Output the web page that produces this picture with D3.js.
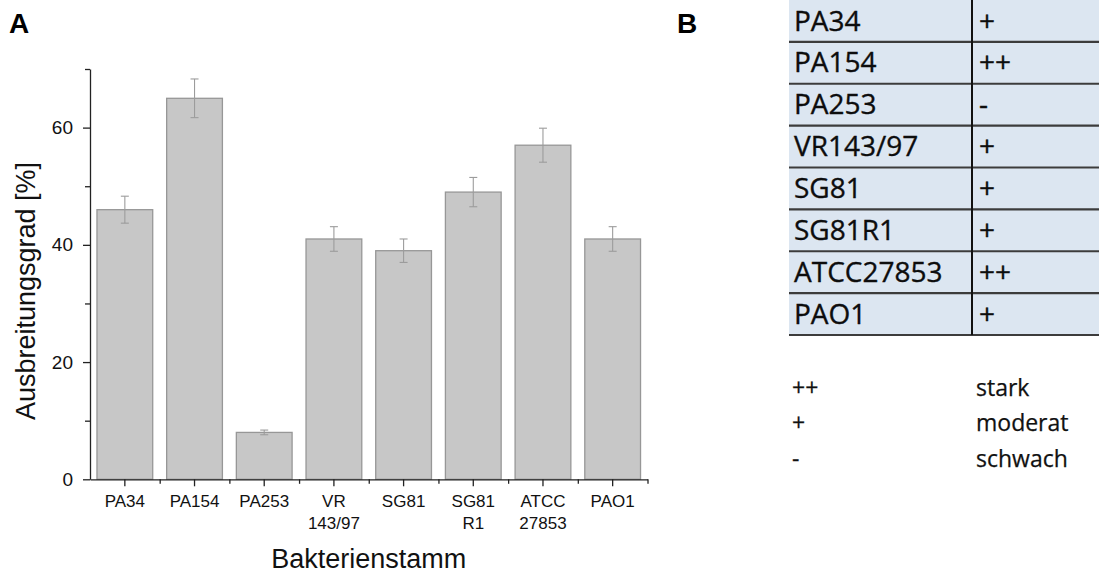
<!DOCTYPE html>
<html><head><meta charset="utf-8">
<script src="https://cdn.jsdelivr.net/npm/d3@7"></script>
<style>
html,body{margin:0;padding:0;background:#fff;}
svg{display:block;}
</style></head>
<body><svg id="c" width="1099" height="574"></svg>
<script>
// ---- data ----
const categories = ["PA34","PA154","PA253","VR\n143/97","SG81","SG81\nR1","ATCC\n27853","PAO1"];
const values = [46, 65, 8, 41, 39, 49, 57, 41];
const errors = [2.3, 3.3, 0.4, 2.1, 2.0, 2.5, 2.9, 2.1];
const yMajorTicks = [0, 20, 40, 60];
const yMinorTicks = [10, 30, 50, 70];
const tableStrains = ["PA34","PA154","PA253","VR143/97","SG81","SG81R1","ATCC27853","PAO1"];
const tableRatings = ["+","++","-","+","+","+","++","+"];
const legendSymbols = ["++","+","-"];
const legendLabels = ["stark","moderat","schwach"];

const svg = d3.select("#c");
const sans = "'Liberation Sans', Arial, sans-serif";
const tfont = "'Open Sans', sans-serif";

// ---- panel A ----
const x = d3.scaleBand().domain(categories).range([90, 647.5]).paddingInner(0.2).paddingOuter(0.1);
const y = d3.scaleLinear().domain([0, 70]).range([479.3, 69]);

const bars = svg.append("g");
bars.selectAll("rect").data(categories).join("rect")
  .attr("x", d => x(d)).attr("width", x.bandwidth())
  .attr("y", (d,i) => y(values[i])).attr("height", (d,i) => y(0) - y(values[i]))
  .attr("fill", "#c7c7c7").attr("stroke", "#979797").attr("stroke-width", 1.3);

const eb = svg.append("g").attr("stroke", "#9c9c9c").attr("stroke-width", 1.1).attr("fill", "none");
categories.forEach((c, i) => {
  const cx = x(c) + x.bandwidth()/2;
  const hi = y(values[i] + errors[i]), lo = y(values[i] - errors[i]);
  eb.append("line").attr("x1", cx).attr("x2", cx).attr("y1", hi).attr("y2", lo);
  eb.append("line").attr("x1", cx-4).attr("x2", cx+4).attr("y1", hi).attr("y2", hi);
  eb.append("line").attr("x1", cx-4).attr("x2", cx+4).attr("y1", lo).attr("y2", lo);
});

// y axis
const yAxisG = svg.append("g").attr("transform", "translate(90,0)")
  .call(d3.axisLeft(y).tickValues(yMajorTicks).tickSize(7).tickPadding(10).tickSizeOuter(0));
svg.append("g").attr("transform", "translate(90,0)")
  .call(d3.axisLeft(y).tickValues(yMinorTicks).tickSize(5).tickFormat("").tickSizeOuter(0))
  .select(".domain").remove();
yAxisG.selectAll("text").attr("font-family", sans).attr("font-size", 19).attr("fill", "#111");

// x axis
const xAxisG = svg.append("g").attr("transform", `translate(0,${y(0)})`)
  .call(d3.axisBottom(x).tickSize(7).tickSizeOuter(0).tickPadding(6));
const boundaries = categories.map(c => x(c) + x.bandwidth() + x.step()*x.paddingInner()/2);
svg.append("g").attr("transform", `translate(0,${y(0)})`)
  .call(d3.axisBottom(d3.scaleLinear().domain([0,1]).range([0,1])).tickValues(boundaries).tickSize(4.5).tickFormat(""))
  .select(".domain").remove();

xAxisG.selectAll(".tick text").each(function(d){
  const t = d3.select(this);
  const lines = d.split("\n");
  t.text(null).attr("font-family", sans).attr("font-size", 17).attr("fill", "#111").attr("y", null).attr("dy", null);
  lines.forEach((ln, k) => t.append("tspan").attr("x", 0).attr("y", 27.7 + k*22).text(ln));
});

svg.selectAll(".domain, .tick line").attr("stroke", "#222").attr("stroke-width", 1.3);

// axis titles
svg.append("text").attr("x", (x.range()[0]+x.range()[1])/2).attr("y", 568)
  .attr("text-anchor", "middle").attr("font-family", sans).attr("font-size", 27).attr("fill", "#111")
  .text("Bakterienstamm");
svg.append("text").attr("transform", "translate(35,291) rotate(-90)")
  .attr("text-anchor", "middle").attr("font-family", sans).attr("font-size", 27).attr("fill", "#111")
  .text("Ausbreitungsgrad [%]");

// panel letters
svg.append("text").attr("x", 9).attr("y", 33).attr("font-family", sans).attr("font-weight", "bold")
  .attr("font-size", 28).attr("fill", "#000").text("A");
svg.append("text").attr("x", 677).attr("y", 33).attr("font-family", sans).attr("font-weight", "bold")
  .attr("font-size", 28).attr("fill", "#000").text("B");

// ---- panel B table ----
const ty = d3.scaleBand().domain(tableStrains).range([0, 335]);
const tx0 = 789, txDiv = 972, tx1 = 1099;
const tg = svg.append("g");
tg.append("rect").attr("x", tx0).attr("y", ty.range()[0]).attr("width", tx1 - tx0)
  .attr("height", ty.range()[1] - ty.range()[0]).attr("fill", "#dce6f1");
tg.selectAll("line.h").data(tableStrains).join("line").attr("class", "h")
  .attr("x1", tx0).attr("x2", tx1)
  .attr("y1", d => ty(d) + ty.bandwidth()).attr("y2", d => ty(d) + ty.bandwidth())
  .attr("stroke", "#3c3c3c").attr("stroke-width", 2.2);
tg.append("line").attr("x1", txDiv).attr("x2", txDiv).attr("y1", ty.range()[0]).attr("y2", ty.range()[1])
  .attr("stroke", "#111").attr("stroke-width", 2);
tg.selectAll("text.s").data(tableStrains).join("text").attr("class", "s")
  .attr("x", 794).attr("y", d => ty(d) + 30.5)
  .attr("font-family", tfont).attr("font-size", 28).attr("fill", "#0d0d0d")
  .attr("stroke", "#0d0d0d").attr("stroke-width", 0.35).text(d => d);
tg.selectAll("text.r").data(tableStrains).join("text").attr("class", "r")
  .attr("x", 979).attr("y", d => ty(d) + 30.5)
  .attr("font-family", tfont).attr("font-size", 28).attr("fill", "#0d0d0d")
  .attr("stroke", "#0d0d0d").attr("stroke-width", 0.35).text((d, i) => tableRatings[i]);

// legend
const ly = d3.scalePoint().domain(legendLabels).range([396, 466.7]);
const lg = svg.append("g").attr("font-family", tfont).attr("font-size", 23).attr("fill", "#111")
  .attr("stroke", "#111").attr("stroke-width", 0.25);
lg.selectAll("text.sym").data(legendLabels).join("text").attr("class", "sym")
  .attr("x", 792).attr("y", d => ly(d)).text((d, i) => legendSymbols[i]);
lg.selectAll("text.lab").data(legendLabels).join("text").attr("class", "lab")
  .attr("x", 976).attr("y", d => ly(d)).text(d => d);
</script>
</body></html>
